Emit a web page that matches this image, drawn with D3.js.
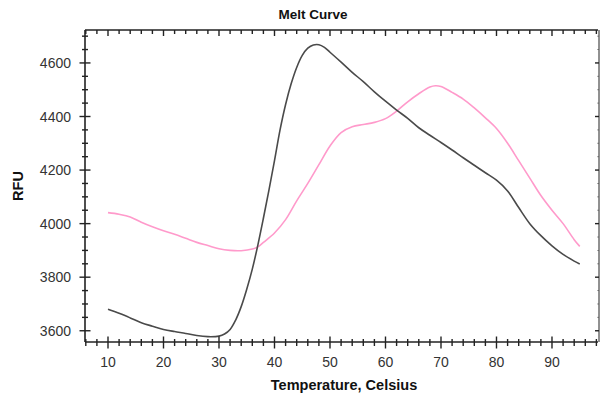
<!DOCTYPE html>
<html>
<head>
<meta charset="utf-8">
<script src="https://cdn.jsdelivr.net/npm/d3@7"></script>
<style>
  html, body { margin: 0; padding: 0; background: #fff; }
  svg { display: block; font-family: "Liberation Sans", Arial, sans-serif; }
</style>
</head>
<body>
<svg id="chart" width="600" height="400"></svg>
<script>
// Melt curve readings: temperature (°C) vs fluorescence (RFU)
const tempsA = [10, 12, 14, 16, 18, 20, 22, 24, 26, 28, 30, 31, 32, 33, 34, 35, 36, 37, 38, 39, 40, 41, 42, 43, 44, 45, 46, 47, 48, 49, 50, 52, 54, 56, 58, 60, 62, 64, 66, 68, 70, 72, 74, 76, 78, 80, 82, 84, 86, 88, 90, 92, 94, 95];
const rfuA = [3680, 3665, 3648, 3630, 3617, 3605, 3597, 3590, 3582, 3578, 3580, 3588, 3605, 3640, 3690, 3755, 3830, 3920, 4020, 4125, 4235, 4350, 4445, 4522, 4583, 4628, 4655, 4667, 4668, 4658, 4640, 4603, 4565, 4530, 4492, 4457, 4424, 4393, 4358, 4330, 4303, 4275, 4246, 4218, 4190, 4162, 4122, 4060, 4000, 3955, 3917, 3885, 3860, 3849];

const tempsB = [10, 12, 14, 16, 18, 20, 22, 24, 26, 28, 30, 32, 34, 36, 37, 38, 40, 42, 44, 46, 48, 50, 52, 54, 56, 58, 60, 62, 64, 66, 68, 69, 70, 72, 74, 76, 78, 80, 82, 84, 86, 88, 90, 92, 94, 95];
const rfuB = [4041, 4035, 4025, 4005, 3988, 3973, 3960, 3945, 3930, 3918, 3906, 3900, 3899, 3905, 3913, 3930, 3965, 4015, 4085, 4150, 4220, 4290, 4340, 4362, 4370, 4378, 4392, 4420, 4455, 4485, 4510, 4515, 4512, 4490, 4465, 4432, 4395, 4355, 4300, 4235, 4170, 4105, 4050, 4000, 3940, 3915];

const xMajorTicks = [10, 20, 30, 40, 50, 60, 70, 80, 90];
const yMajorTicks = [3600, 3800, 4000, 4200, 4400, 4600];

const titleText = "Melt Curve";
const xTitle = "Temperature, Celsius";
const yTitle = "RFU";

const svg = d3.select("#chart");

const x = d3.scaleLinear().domain([6, 98.2]).range([85.8, 597.5]);
const y = d3.scaleLinear().domain([3558, 4723]).range([342, 30]);

const plotL = 85, plotR = 598, plotT = 30, plotB = 342;
const axisColor = "#222";

const xMinor = d3.range(6, 99, 2);
const yMinor = d3.range(3600, 4723, 50);

// Curves
const line = d3.line().x(d => x(d[0])).y(d => y(d[1])).curve(d3.curveCatmullRom.alpha(0.5));

svg.append("path")
  .datum(tempsB.map((t, i) => [t, rfuB[i]]))
  .attr("fill", "none")
  .attr("stroke", "#ff9acb")
  .attr("stroke-width", 1.6)
  .attr("d", line);

svg.append("path")
  .datum(tempsA.map((t, i) => [t, rfuA[i]]))
  .attr("fill", "none")
  .attr("stroke", "#4a4a4a")
  .attr("stroke-width", 1.6)
  .attr("d", line);

// Frame lines
const frame = svg.append("g").attr("stroke", axisColor).attr("stroke-width", 1.6).attr("fill", "none");
frame.append("line").attr("x1", plotL).attr("x2", plotR).attr("y1", plotB).attr("y2", plotB);
frame.append("line").attr("x1", plotL).attr("x2", plotL).attr("y1", plotT).attr("y2", plotB);
frame.append("line").attr("x1", plotL).attr("x2", plotR).attr("y1", plotT).attr("y2", plotT);
frame.append("line").attr("x1", plotR + 1).attr("x2", plotR + 1).attr("y1", plotT).attr("y2", plotB).attr("stroke-width", 1);

// Bottom axis ticks cross the line; top axis ticks point inward
const ticks = svg.append("g").attr("stroke", axisColor).attr("stroke-width", 1.4);
xMinor.forEach(v => {
  const major = xMajorTicks.includes(v);
  ticks.append("line").attr("x1", x(v)).attr("x2", x(v))
    .attr("y1", plotB - (major ? 5.5 : 3)).attr("y2", plotB + (major ? 6.5 : 4));
  ticks.append("line").attr("x1", x(v)).attr("x2", x(v))
    .attr("y1", plotT).attr("y2", plotT + (major ? 6 : 4));
});

// Left axis ticks cross the line; right axis ticks point inward
yMinor.forEach(v => {
  const major = yMajorTicks.includes(v);
  ticks.append("line").attr("x1", plotL - (major ? 5.5 : 3)).attr("x2", plotL + (major ? 5.5 : 3))
    .attr("y1", y(v)).attr("y2", y(v));
  ticks.append("line").attr("x1", plotR + 1 - (major ? 4 : 2)).attr("x2", plotR + 1)
    .attr("y1", y(v)).attr("y2", y(v)).attr("stroke-width", major ? 1.4 : 0.8).attr("opacity", major ? 1 : 0.5);
});

// Tick labels
svg.append("g").selectAll("text").data(xMajorTicks).join("text")
  .attr("x", d => x(d)).attr("y", 367)
  .attr("text-anchor", "middle")
  .attr("font-size", 14).attr("fill", "#333")
  .text(d => d);

svg.append("g").selectAll("text").data(yMajorTicks).join("text")
  .attr("x", 71).attr("y", d => y(d) + 5)
  .attr("text-anchor", "end")
  .attr("font-size", 14).attr("fill", "#333")
  .text(d => d);

// Titles
svg.append("text").attr("x", 313).attr("y", 19)
  .attr("text-anchor", "middle").attr("font-size", 13.5).attr("font-weight", "bold").attr("fill", "#111")
  .text(titleText);

svg.append("text").attr("x", 344).attr("y", 390)
  .attr("text-anchor", "middle").attr("font-size", 14.5).attr("font-weight", "bold").attr("fill", "#111")
  .text(xTitle);

svg.append("text").attr("transform", "translate(22.5,186) rotate(-90)")
  .attr("text-anchor", "middle").attr("font-size", 14.5).attr("font-weight", "bold").attr("fill", "#111")
  .text(yTitle);
</script>
</body>
</html>
